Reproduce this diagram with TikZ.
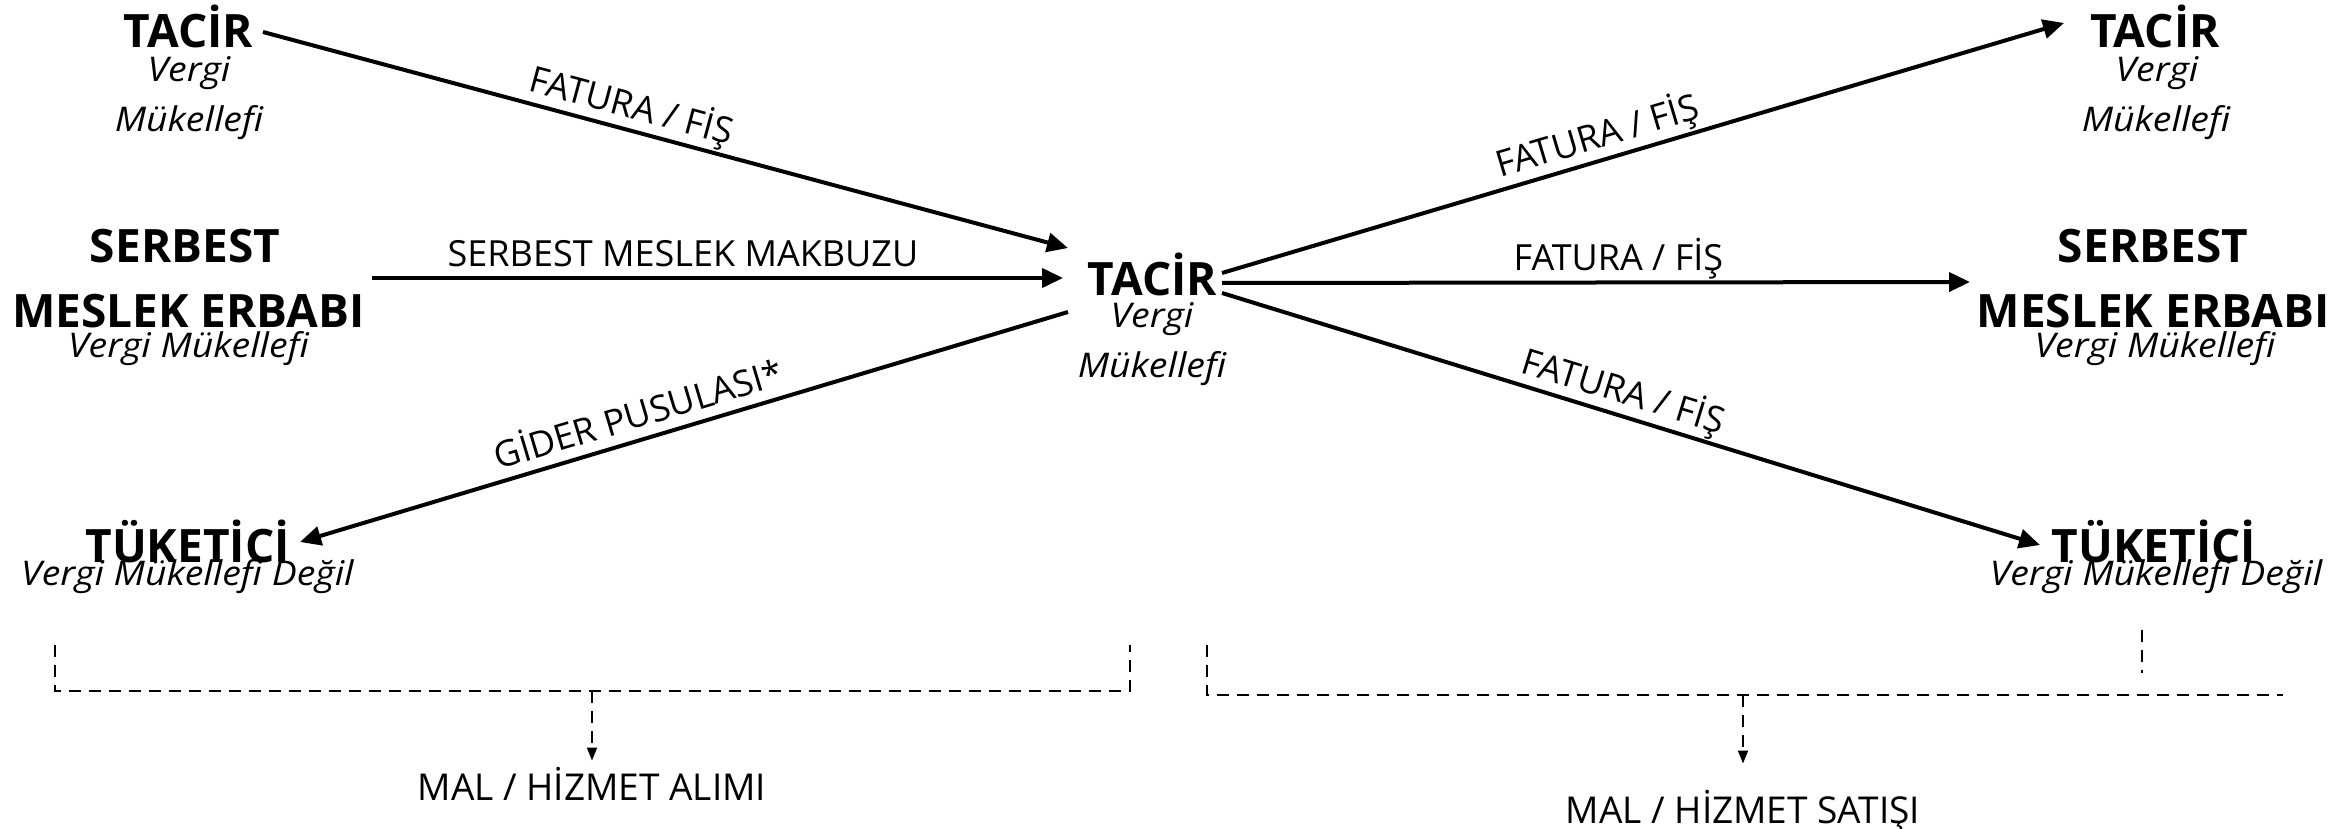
\documentclass[tikz,border=0pt]{standalone}
\usepackage{fontspec}
\setmainfont{Open Sans}
\newfontfamily\subfam{Open Sans}[FakeStretch=1.1]
\usetikzlibrary{arrows.meta}

\newcommand\hdfont{\bfseries\fontsize{46}{50}\selectfont}
\newcommand\subfont{\subfam\itshape\fontsize{34}{38}\selectfont}
\newcommand\lblfont{\fontsize{36}{40}\selectfont}
\newcommand\btmfont{\fontsize{37}{40}\selectfont}

\tikzset{
  head/.style={font=\hdfont, inner sep=0pt, anchor=base},
  sub/.style={font=\subfont, inner sep=0pt, anchor=base},
  flow/.style={line width=4pt, -{Triangle[length=21pt,width=19pt]}},
  lbl/.style={font=\lblfont, inner sep=0pt, text depth=0pt, sloped},
  guide/.style={line width=2pt, dash pattern=on 12pt off 8pt},
  guidearrow/.style={guide, -{Triangle[length=13pt,width=10pt]}},
  result/.style={font=\btmfont, inner sep=0pt, anchor=base}
}

\begin{document}
\begin{tikzpicture}[x=1pt,y=-1pt]
\useasboundingbox (0,0) rectangle (2346,829);

% buyers (left column)
\node[head] (lT)   at (188.5,48)  {TACİR};
\node[sub]  (lTs1) at (189,82)    {Vergi};
\node[sub]  (lTs2) at (189,132)   {Mükellefi};
\node[head] (lS1)  at (185,262)   {SERBEST};
\node[head] (lS2)  at (188.5,327) {MESLEK ERBABI};
\node[sub]  (lSs)  at (188.5,357) {Vergi Mükellefi};
\node[head] (lK)   at (187.5,562) {TÜKETİCİ};
\node[sub]  (lKs)  at (187.5,585) {Vergi Mükellefi Değil};

% the merchant in the middle
\node[head] (cT)   at (1152.5,295) {TACİR};
\node[sub]  (cTs1) at (1152,327)   {Vergi};
\node[sub]  (cTs2) at (1152,377)   {Mükellefi};

% customers (right column)
\node[head] (rT)   at (2155,48)  {TACİR};
\node[sub]  (rTs1) at (2157,82)  {Vergi};
\node[sub]  (rTs2) at (2156,132) {Mükellefi};
\node[head] (rS1)  at (2153,262) {SERBEST};
\node[head] (rS2)  at (2153,327) {MESLEK ERBABI};
\node[sub]  (rSs)  at (2155,357) {Vergi Mükellefi};
\node[head] (rK)   at (2154,562) {TÜKETİCİ};
\node[sub]  (rKs)  at (2156,585) {Vergi Mükellefi Değil};

% purchase documents
\draw[flow] ([shift={(74.5,-16)}]lT.base) -- ([shift={(-84.5,-47)}]cT.base)
  node[lbl, pos=0.45, above=10pt] (e1) {FATURA / FİŞ};
\draw[flow] ([shift={(183.5,-49)}]lS2.base) -- ([shift={(-89.5,-17)}]cT.base)
  node[lbl, pos=0.45, above=10pt] (e2) {SERBEST MESLEK MAKBUZU};
\draw[flow] ([shift={(-84.5,17)}]cT.base) -- ([shift={(112.5,-20)}]lK.base)
  node[lbl, pos=0.55, above=10pt] (e3) {GİDER PUSULASI*};

% sales documents
\draw[flow] ([shift={(69.5,-22)}]cT.base) -- ([shift={(-91,-25)}]rT.base)
  node[lbl, pos=0.454, above=10pt] (e4) {FATURA / FİŞ};
\draw[flow] ([shift={(69.5,-12)}]cT.base) -- ([shift={(-183,-45)}]rS2.base)
  node[lbl, pos=0.53, above=10pt] (e5) {FATURA / FİŞ};
\draw[flow] ([shift={(69.5,-2)}]cT.base) -- ([shift={(-114,-17)}]rK.base)
  node[lbl, pos=0.482, above=10pt] (e6) {FATURA / FİŞ};

% purchase bracket
\coordinate (a1) at (55,645);
\coordinate (a2) at (55,691);
\coordinate (a3) at (1130,691);
\coordinate (a4) at (1130,645);
\coordinate (am) at (592,691);
\draw[guide] (a1) -- (a2) -- (a3) -- (a4);
\node[result] (alim) at (592,800) {MAL / HİZMET ALIMI};
\draw[guidearrow] (am) -- ([yshift=6pt]alim.north);

% sales bracket
\coordinate (b1) at (1207,645);
\coordinate (b2) at (1207,695);
\coordinate (b3) at (2283,695);
\coordinate (b4) at (2142,630);
\coordinate (b5) at (2142,673);
\coordinate (bm) at (1743,695);
\draw[guide] (b1) -- (b2) -- (b3);
\draw[guide] (b4) -- (b5);
\node[result] (satis) at (1743,823) {MAL / HİZMET SATIŞI};
\draw[guidearrow] (bm) -- ([yshift=26pt]satis.north);
\end{tikzpicture}
\end{document}
